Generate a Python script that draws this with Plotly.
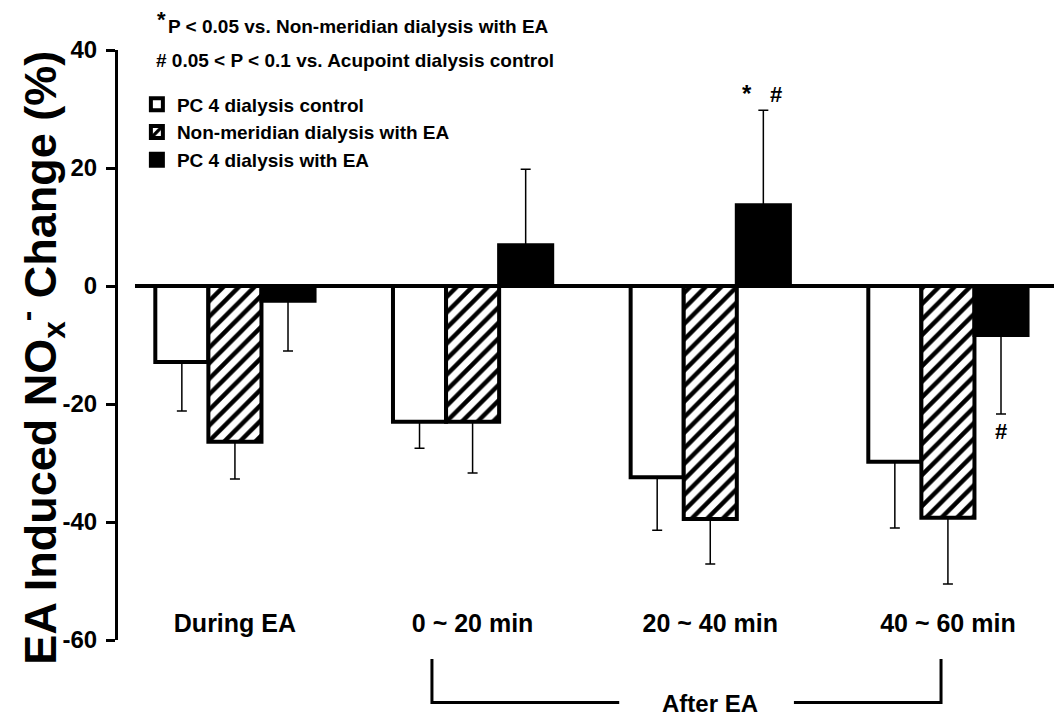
import plotly.graph_objects as go

# ---- data ----
categories = ["During EA", "0 ~ 20 min", "20 ~ 40 min", "40 ~ 60 min"]
series_names = ["PC 4 dialysis control", "Non-meridian dialysis with EA", "PC 4 dialysis with EA"]
control_vals = [-12.9, -23.0, -32.4, -29.8]
control_err = [8.3, 4.5, 9.0, 11.2]
nonmer_vals = [-26.4, -23.0, -39.5, -39.3]
nonmer_err = [6.3, 8.7, 7.6, 11.2]
pc4ea_vals = [-2.5, 6.9, 13.7, -8.3]
pc4ea_err = [8.5, 12.9, 16.1, 13.4]
y_ticks = [40, 20, 0, -20, -40, -60]
y_ticktext = ["40", "20", "0", "-20", "-40", "-60"]

FONT = "Liberation Sans, Arial, sans-serif"


def one_sided(vals, errs):
    plus = [e if v > 0 else 0 for v, e in zip(vals, errs)]
    minus = [e if v < 0 else 0 for v, e in zip(vals, errs)]
    return plus, minus


def err_cfg(vals, errs):
    plus, minus = one_sided(vals, errs)
    return dict(type="data", symmetric=False, array=plus, arrayminus=minus,
                color="black", thickness=1.5, width=5)


fig = go.Figure()
fig.add_trace(go.Bar(
    x=categories, y=control_vals, name=series_names[0],
    marker=dict(color="white", line=dict(color="black", width=4)),
    error_y=err_cfg(control_vals, control_err)))
fig.add_trace(go.Bar(
    x=categories, y=nonmer_vals, name=series_names[1],
    marker=dict(color="white", line=dict(color="black", width=4),
                pattern=dict(shape="/", fgcolor="black", bgcolor="white",
                             size=11, solidity=0.4, fillmode="replace")),
    error_y=err_cfg(nonmer_vals, nonmer_err)))
fig.add_trace(go.Bar(
    x=categories, y=pc4ea_vals, name=series_names[2],
    marker=dict(color="black", line=dict(color="black", width=4)),
    error_y=err_cfg(pc4ea_vals, pc4ea_err)))

# zero line (does not touch the y axis)
fig.add_shape(type="line", xref="paper", yref="y", x0=0.018, x1=1, y0=0, y1=0,
              line=dict(color="black", width=4), layer="above")

# "After EA" bracket
bx0, bx1 = 0.829, 2.971
by_top, by_bot = -0.032, -0.106
fig.add_shape(type="path", xref="x", yref="paper",
              path=f"M {bx0},{by_top} L {bx0},{by_bot} L 1.617,{by_bot}",
              line=dict(color="black", width=3))
fig.add_shape(type="path", xref="x", yref="paper",
              path=f"M 2.352,{by_bot} L {bx1},{by_bot} L {bx1},{by_top}",
              line=dict(color="black", width=3))

ann = []
ann.append(dict(text="After EA", x=2.0, xref="x", y=-0.108, yref="paper",
                showarrow=False, font=dict(family=FONT, size=24, color="black", weight="bold"),
                xanchor="center", yanchor="middle"))
# significance marks
ann.append(dict(text="*", x=2.223, xref="x", y=32.6, yref="y", xshift=-16, showarrow=False,
                font=dict(family=FONT, size=24, color="black", weight="bold")))
ann.append(dict(text="#", x=2.223, xref="x", y=32.4, yref="y", xshift=13, showarrow=False,
                font=dict(family=FONT, size=22, color="black", weight="bold")))
ann.append(dict(text="#", x=3.223, xref="x", y=-24.7, yref="y", showarrow=False,
                font=dict(family=FONT, size=22, color="black", weight="bold")))
# notes
ann.append(dict(text="*", x=0.039, xref="paper", y=1.051, yref="paper", showarrow=False,
                xanchor="left", yanchor="middle",
                font=dict(family=FONT, size=22, color="black", weight="bold")))
ann.append(dict(text="P &lt; 0.05 vs. Non-meridian dialysis with EA", x=0.051, xref="paper",
                y=1.039, yref="paper", showarrow=False, xanchor="left", yanchor="middle",
                font=dict(family=FONT, size=19, color="black", weight="bold")))
ann.append(dict(text="# 0.05 &lt; P &lt; 0.1 vs. Acupoint dialysis control", x=0.038, xref="paper",
                y=0.983, yref="paper", showarrow=False, xanchor="left", yanchor="middle",
                font=dict(family=FONT, size=19, color="black", weight="bold")))
# y-axis title
ann.append(dict(text="EA Induced NO<sub>x</sub><sup>-</sup> Change (%)", x=-0.083, xref="paper",
                y=0.478, yref="paper", showarrow=False, textangle=-90,
                xanchor="center", yanchor="middle",
                font=dict(family=FONT, size=45, color="black", weight="bold")))

fig.update_layout(
    width=1054, height=711,
    margin=dict(l=110, r=0, t=42, b=79),
    paper_bgcolor="white", plot_bgcolor="white",
    barmode="group", bargap=0.33, bargroupgap=0,
    font=dict(family=FONT, color="black"),
    showlegend=True,
    legend=dict(x=0.02, y=0.94, xanchor="left", yanchor="top",
                bgcolor="rgba(0,0,0,0)", borderwidth=0,
                font=dict(family=FONT, size=19, color="black", weight="bold"),
                itemwidth=30, tracegroupgap=0),
    annotations=ann,
    xaxis=dict(range=[-0.492, 3.48], anchor="free", position=0.058,
               showline=False, showgrid=False, zeroline=False, ticks="",
               tickfont=dict(family=FONT, size=25, color="black", weight="bold")),
    yaxis=dict(range=[-60, 40], tickvals=y_ticks, ticktext=y_ticktext,
               showgrid=False, zeroline=False,
               showline=True, linecolor="black", linewidth=3,
               ticks="outside", ticklen=9, tickwidth=3, tickcolor="black",
               ticklabelstandoff=4,
               tickfont=dict(family=FONT, size=24, color="black", weight="bold")),
)

fig.write_html("out.html")
